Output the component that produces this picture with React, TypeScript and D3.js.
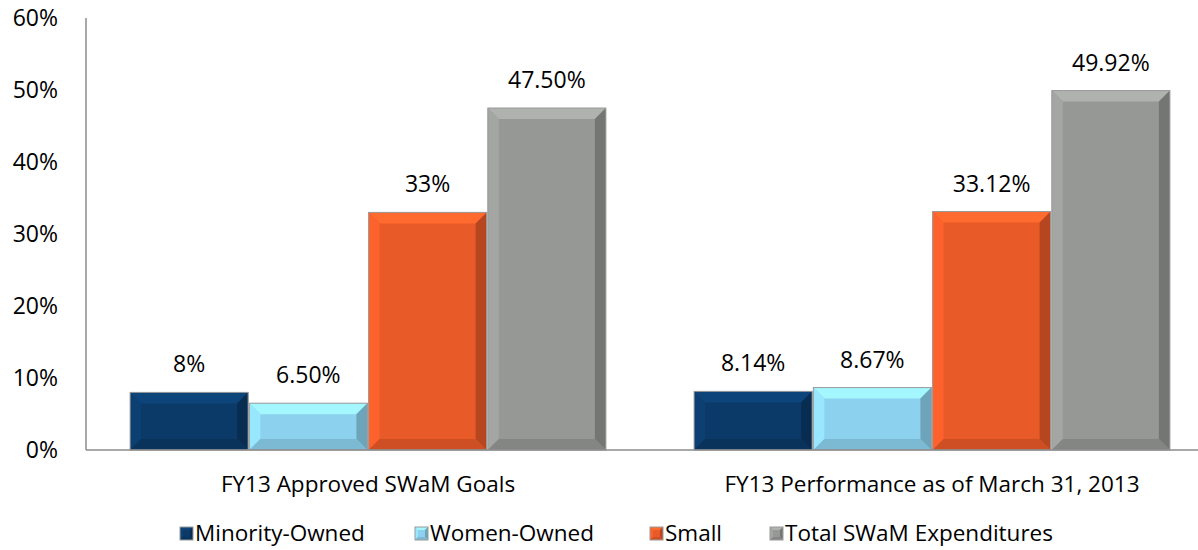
import * as d3 from "d3";
import React from "react";

const categories = ["FY13 Approved SWaM Goals", "FY13 Performance as of March 31, 2013"];
const seriesNames = ["Minority-Owned", "Women-Owned", "Small", "Total SWaM Expenditures"];
const seriesColors = ["#0b3a68", "#8cd2ee", "#e85a28", "#959895"];
const values = [
	[8, 6.5, 33, 47.5],
	[8.14, 8.67, 33.12, 49.92],
];
const valueLabels = [
	["8%", "6.50%", "33%", "47.50%"],
	["8.14%", "8.67%", "33.12%", "49.92%"],
];
const yTicks = [0, 10, 20, 30, 40, 50, 60];

const font = "'Open Sans', sans-serif";

const Bar = (props: { x: number; y: number; w: number; h: number; color: string; b?: number }) => {
	const { x, y, w, h, color } = props;
	const b = Math.min(props.b ?? 11, h / 2, w / 2);
	const c = d3.color(color)!;
	const light = c.brighter(0.25).formatHex();
	const lighter = c.brighter(0.45).formatHex();
	const dark = c.darker(0.35).formatHex();
	const darker = c.darker(0.7).formatHex();
	const x2 = x + w;
	const y2 = y + h;
	const pts = (a: number[][]) => a.map((p) => p.join(",")).join(" ");
	return (
		<g>
			<rect x={x} y={y} width={w} height={h} fill={color} />
			<polygon points={pts([[x, y], [x2, y], [x2 - b, y + b], [x + b, y + b]])} fill={lighter} />
			<polygon points={pts([[x, y], [x + b, y + b], [x + b, y2 - b], [x, y2]])} fill={light} />
			<polygon points={pts([[x2, y], [x2, y2], [x2 - b, y2 - b], [x2 - b, y + b]])} fill={darker} />
			<polygon points={pts([[x, y2], [x + b, y2 - b], [x2 - b, y2 - b], [x2, y2]])} fill={dark} />
			<rect x={x} y={y} width={w} height={h} fill="none" stroke="#9a9a9a" strokeWidth={1} />
		</g>
	);
};

export default function App() {
	const width = 1198;
	const height = 550;
	const left = 86;
	const right = 1198;
	const top = 18;
	const bottom = 450;

	const x0 = d3.scaleBand().domain(categories).range([left, left + 564 * 2]);
	const x1 = d3
		.scaleBand()
		.domain(seriesNames)
		.range([0, x0.bandwidth()])
		.paddingOuter(0.37)
		.paddingInner(0.01);
	const y = d3.scaleLinear().domain([0, 60]).range([bottom, top]);

	const legendX = [180, 415, 650, 770];

	return (
		<svg width={width} height={height} style={{ position: "absolute", left: 0, top: 0 }} fontFamily={font}>
			{yTicks.map((t) => (
				<text key={t} x={58} y={y(t)} dy="0.35em" textAnchor="end" fontSize={23} fill="#000">
					{t}%
				</text>
			))}
			<line x1={left} x2={left} y1={top} y2={bottom} stroke="#8c8c8c" strokeWidth={1.5} />
			{categories.map((cat, i) => (
				<g key={cat}>
					{seriesNames.map((s, j) => {
						const bx = (x0(cat) as number) + (x1(s) as number);
						const by = y(values[i][j]);
						return (
							<g key={s}>
								<Bar x={bx} y={by} w={x1.bandwidth()} h={bottom - by} color={seriesColors[j]} />
								<text
									x={bx + x1.bandwidth() / 2}
									y={by - 20}
									textAnchor="middle"
									fontSize={23}
									fill="#000"
								>
									{valueLabels[i][j]}
								</text>
							</g>
						);
					})}
					<text
						x={(x0(cat) as number) + x0.bandwidth() / 2}
						y={492}
						textAnchor="middle"
						fontSize={22.5}
						fill="#000"
					>
						{cat}
					</text>
				</g>
			))}
			<line x1={left} x2={right} y1={bottom} y2={bottom} stroke="#8c8c8c" strokeWidth={1.5} />
			{seriesNames.map((s, j) => (
				<g key={s} transform={`translate(${legendX[j]},527)`}>
					<Bar x={0} y={0} w={13} h={13} color={seriesColors[j]} b={3} />
					<text x={15} y={6.5} dy="0.35em" fontSize={22.5} fill="#000">
						{s}
					</text>
				</g>
			))}
		</svg>
	);
}
